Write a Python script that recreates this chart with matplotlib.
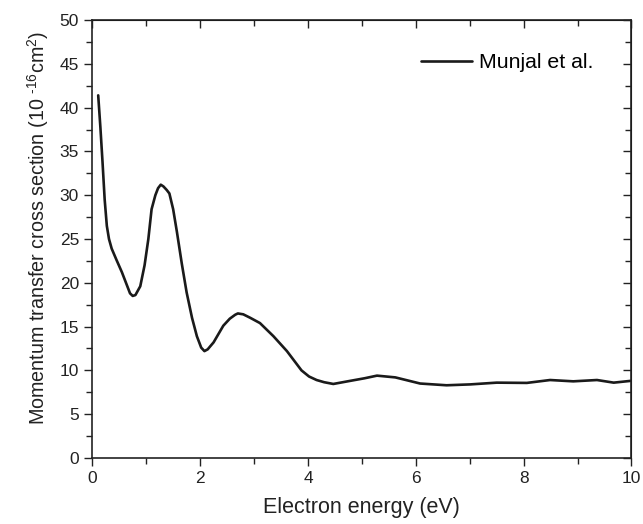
import matplotlib
matplotlib.use("Agg")
import matplotlib.pyplot as plt
from matplotlib.ticker import MultipleLocator

plt.rcParams['font.family'] = ['Liberation Sans', 'DejaVu Sans']
plt.rcParams['mathtext.fontset'] = 'custom'
plt.rcParams['mathtext.rm'] = 'Liberation Sans'
plt.rcParams['mathtext.it'] = 'Liberation Sans:italic'

energy = [0.11, 0.15, 0.19, 0.23, 0.27, 0.31, 0.36, 0.45, 0.55, 0.65, 0.70, 0.75, 0.80,
          0.89, 0.97, 1.04, 1.10, 1.17, 1.22, 1.27, 1.32, 1.38, 1.43, 1.50,
          1.57, 1.66, 1.75, 1.85, 1.94, 2.02, 2.08, 2.14, 2.25, 2.43, 2.55, 2.65, 2.70,
          2.80, 2.93, 3.11, 3.36, 3.61, 3.88, 4.02,
          4.16, 4.30, 4.47, 4.78, 5.05, 5.28, 5.62, 6.08, 6.57, 7.01, 7.50, 8.06, 8.49, 8.92,
          9.36, 9.67, 9.98]
sigma = [41.4, 37.8, 33.8, 29.5, 26.5, 25.0, 23.9, 22.6, 21.2, 19.6, 18.8, 18.5, 18.6,
         19.6, 22.0, 25.0, 28.4, 30.0, 30.8, 31.2, 31.0, 30.6, 30.2, 28.4,
         25.8, 22.2, 18.9, 16.0, 13.9, 12.6, 12.2, 12.4, 13.2, 15.1, 15.9, 16.35, 16.5,
         16.4, 16.0, 15.4, 13.9, 12.2, 10.0, 9.3,
         8.9, 8.65, 8.45, 8.8, 9.1, 9.4, 9.2, 8.5, 8.3, 8.4, 8.6, 8.57, 8.9, 8.75,
         8.9, 8.6, 8.8]

fig = plt.figure(figsize=(6.43, 5.24), dpi=100)
ax = fig.add_axes([0.1435, 0.126, 0.9821 - 0.1435, 0.9618 - 0.126])
ax.plot(energy, sigma, color='#1a1a1a', lw=1.9, label='Munjal et al.',
        solid_joinstyle='round', solid_capstyle='round')
ax.set_xlim(0, 10)
ax.set_ylim(0, 50)
ax.xaxis.set_major_locator(MultipleLocator(2))
ax.xaxis.set_minor_locator(MultipleLocator(1))
ax.yaxis.set_major_locator(MultipleLocator(5))
ax.yaxis.set_minor_locator(MultipleLocator(2.5))
ax.tick_params(axis='both', which='both', direction='out', labelsize=12.5, colors='#222222', width=1)
ax.tick_params(which='major', length=6)
ax.tick_params(which='minor', length=4)
for spine in ax.spines.values():
    spine.set_linewidth(1.2)
    spine.set_color('#222222')
sx = ax.secondary_xaxis('top')
sx.xaxis.set_major_locator(MultipleLocator(2))
sx.xaxis.set_minor_locator(MultipleLocator(1))
sx.tick_params(which='both', direction='in', labeltop=False, width=1, colors='#222222')
sx.tick_params(which='major', length=6)
sx.tick_params(which='minor', length=4)
sy = ax.secondary_yaxis('right')
sy.yaxis.set_major_locator(MultipleLocator(5))
sy.yaxis.set_minor_locator(MultipleLocator(2.5))
sy.tick_params(which='both', direction='in', labelright=False, width=1, colors='#222222')
sy.tick_params(which='major', length=6)
sy.tick_params(which='minor', length=4)

ax.set_xlabel('Electron energy (eV)', fontsize=15.5, color='#222222', labelpad=8)
ax.set_ylabel(r'Momentum transfer cross section (10 $^{\text{-16}}$cm$^{2}$)', fontsize=14.2,
              color='#222222', labelpad=6)
ax.yaxis.label.set_y(0.526)
leg = ax.legend(loc='center left', frameon=False, fontsize=15.3, handlelength=2.4,
                handletextpad=0.33, borderpad=0, borderaxespad=0,
                bbox_to_anchor=(0.6096, 0.902))
fig.savefig('out.png', dpi=100)
